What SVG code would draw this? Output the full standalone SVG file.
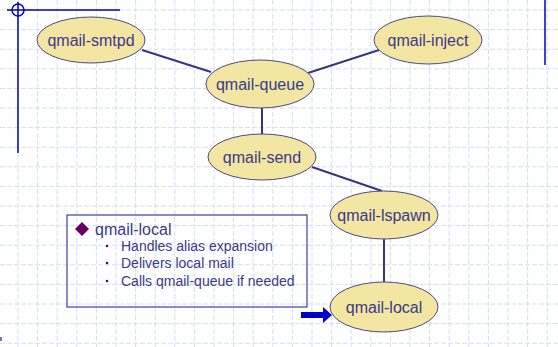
<svg xmlns="http://www.w3.org/2000/svg" width="558" height="347" viewBox="0 0 558 347">
  <style>
    .grid { fill: none; stroke: #d3ddf6; stroke-width: 1; stroke-dasharray: 5 2; }
    .guide { fill: none; stroke: #0000c8; stroke-width: 1.5; }
    .node ellipse { fill: #f3e6a2; stroke: #4a4a84; stroke-width: 1; }
    .node text { font-family: "Liberation Sans", Arial, sans-serif; font-size: 16px; fill: #3a3a8c; text-anchor: middle; }
    .edge { stroke: #363680; stroke-width: 2; fill: none; }
    .note text { font-family: "Liberation Sans", Arial, sans-serif; fill: #3a3a8c; }
  </style>

  <rect width="558" height="347" fill="#ffffff"/>

  <!-- background grid -->
  <path class="grid" d="M18 0V347M37.6 0V347M57.2 0V347M76.8 0V347M96.4 0V347M116 0V347M135.6 0V347M155.2 0V347M174.8 0V347M194.4 0V347M214 0V347M233.6 0V347M253.2 0V347M272.8 0V347M292.4 0V347M312 0V347M331.6 0V347M351.2 0V347M370.8 0V347M390.4 0V347M410 0V347M429.6 0V347M449.2 0V347M468.8 0V347M488.4 0V347M508 0V347M527.6 0V347M547.2 0V347"/>
  <path class="grid" d="M0 10H558M0 29.6H558M0 49.2H558M0 68.8H558M0 88.4H558M0 108H558M0 127.6H558M0 147.2H558M0 166.8H558M0 186.4H558M0 206H558M0 225.6H558M0 245.2H558M0 264.8H558M0 284.4H558M0 304H558M0 323.6H558M0 343.2H558"/>

  <!-- page guides -->
  <g id="guides">
    <path class="guide" d="M7 10H120M18 2V153M545 0V65"/>
    <circle class="guide" cx="18" cy="10" r="6"/>
    <rect x="0" y="337" width="2" height="4" fill="#6a7ab8"/>
  </g>

  <!-- connectors -->
  <g id="connectors">
    <line class="edge" x1="142" y1="50" x2="211" y2="72"/>
    <line class="edge" x1="308" y1="73" x2="379" y2="50"/>
    <line class="edge" x1="262" y1="108" x2="262" y2="134"/>
    <line class="edge" x1="312" y1="167" x2="382" y2="191"/>
    <line class="edge" x1="384" y1="239" x2="384" y2="283"/>
  </g>

  <g id="qmail-smtpd" class="node">
    <ellipse cx="91" cy="40" rx="54" ry="23"/>
    <text x="91" y="46">qmail-smtpd</text>
  </g>
  <g id="qmail-inject" class="node">
    <ellipse cx="428" cy="40" rx="54" ry="24"/>
    <text x="428" y="46">qmail-inject</text>
  </g>
  <g id="qmail-queue" class="node">
    <ellipse cx="260" cy="84" rx="54" ry="24"/>
    <text x="260" y="90">qmail-queue</text>
  </g>
  <g id="qmail-send" class="node">
    <ellipse cx="262" cy="157" rx="54" ry="23"/>
    <text x="262" y="163">qmail-send</text>
  </g>
  <g id="qmail-lspawn" class="node">
    <ellipse cx="384" cy="215" rx="54" ry="24"/>
    <text x="384" y="221">qmail-lspawn</text>
  </g>
  <g id="qmail-local" class="node">
    <ellipse cx="384" cy="307" rx="54" ry="25"/>
    <text x="384" y="313">qmail-local</text>
  </g>

  <!-- description box -->
  <g id="note" class="note">
    <rect x="67" y="215" width="240" height="92" fill="none" stroke="#3d3db4" stroke-width="1.2"/>
    <path d="M82 222L89 229L82 236L75 229Z" fill="#660066"/>
    <text x="95" y="235" font-size="16">qmail-local</text>
    <circle cx="107" cy="246" r="1.3" fill="#660066"/>
    <circle cx="107" cy="263" r="1.3" fill="#660066"/>
    <circle cx="107" cy="281" r="1.3" fill="#660066"/>
    <text x="121" y="251" font-size="14">Handles alias expansion</text>
    <text x="121" y="268" font-size="14">Delivers local mail</text>
    <text x="121" y="286" font-size="14">Calls qmail-queue if needed</text>
  </g>

  <!-- pointer arrow -->
  <g id="pointer">
    <path d="M301 312H323V307L332 315L323 323V318H301Z" fill="#0000c8"/>
  </g>
</svg>
